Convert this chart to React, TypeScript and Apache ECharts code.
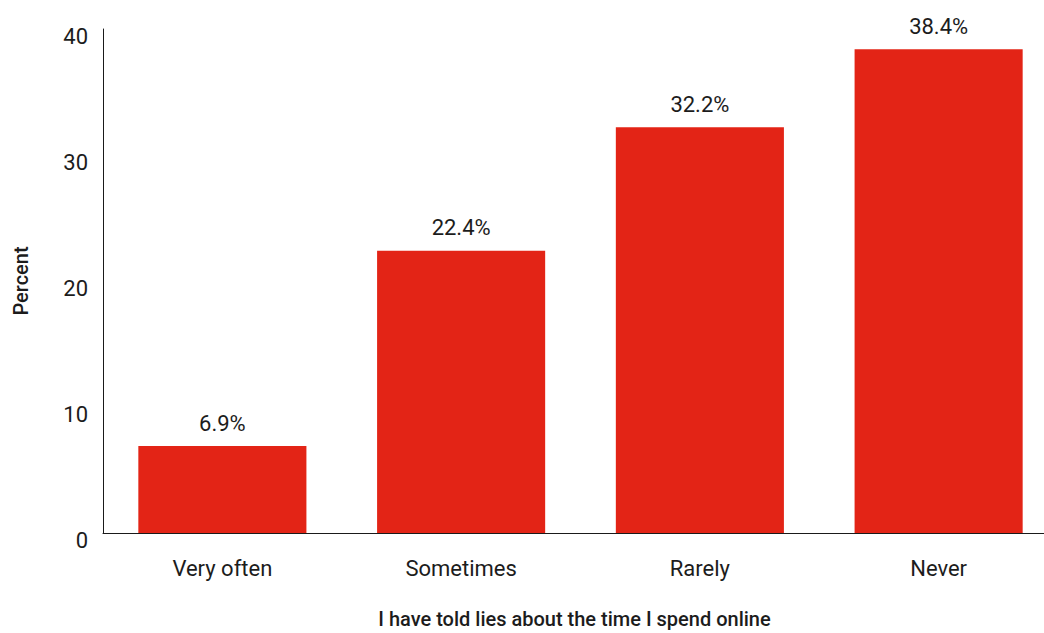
import React, { useEffect, useRef } from "react";
import * as echarts from "echarts";

const categories = ["Very often", "Sometimes", "Rarely", "Never"];
const values = [6.9, 22.4, 32.2, 38.4];
const yTicks = { min: 0, max: 40, interval: 10 };
const xTitle = "I have told lies about the time I spend online";
const yTitle = "Percent";

const FONT = "Roboto, 'DejaVu Sans', sans-serif";
const TEXT = "#1c1c1c";
const RED = "#E32416";

export default function App() {
  const ref = useRef<HTMLDivElement>(null);
  useEffect(() => {
    if (!ref.current) return;
    const chart = echarts.init(ref.current, null, { renderer: "svg" });
    chart.setOption({
      animation: false,
      backgroundColor: "#ffffff",
      textStyle: { fontFamily: FONT },
      grid: {
        left: 103,
        right: -14,
        top: 29,
        bottom: 100,
        containLabel: false,
        outerBoundsMode: "none",
      },
      xAxis: {
        type: "category",
        data: categories,
        name: xTitle,
        nameLocation: "middle",
        nameGap: 76,
        nameTextStyle: {
          fontSize: 20,
          fontWeight: 500,
          color: TEXT,
          fontFamily: FONT,
          padding: [0, 12, 0, 0],
        },
        axisLine: { show: true, lineStyle: { color: "#1a1a1a", width: 1 } },
        axisTick: { show: false },
        axisLabel: { margin: 24, fontSize: 22, color: TEXT, fontFamily: FONT },
      },
      yAxis: {
        type: "value",
        min: yTicks.min,
        max: yTicks.max,
        interval: yTicks.interval,
        name: yTitle,
        nameLocation: "middle",
        nameGap: 72,
        nameRotate: 90,
        nameTextStyle: { fontSize: 20, fontWeight: 500, color: TEXT, fontFamily: FONT },
        axisLine: { show: true, lineStyle: { color: "#1a1a1a", width: 1 } },
        axisTick: { show: false },
        splitLine: { show: false },
        axisLabel: {
          margin: 15,
          fontSize: 22,
          color: TEXT,
          fontFamily: FONT,
          verticalAlign: "top",
          lineHeight: 15,
        },
      },
      series: [
        {
          type: "bar",
          data: values,
          barWidth: "70.4%",
          itemStyle: { color: RED },
          label: {
            show: true,
            position: "top",
            distance: 12,
            fontSize: 22,
            color: TEXT,
            fontFamily: FONT,
            formatter: (p: any) => `${p.value.toFixed(1)}%`,
          },
        },
      ],
    });
    return () => chart.dispose();
  }, []);
  return (
    <div
      ref={ref}
      style={{ position: "fixed", left: 0, top: 0, width: 1044, height: 633, background: "#fff" }}
    />
  );
}
